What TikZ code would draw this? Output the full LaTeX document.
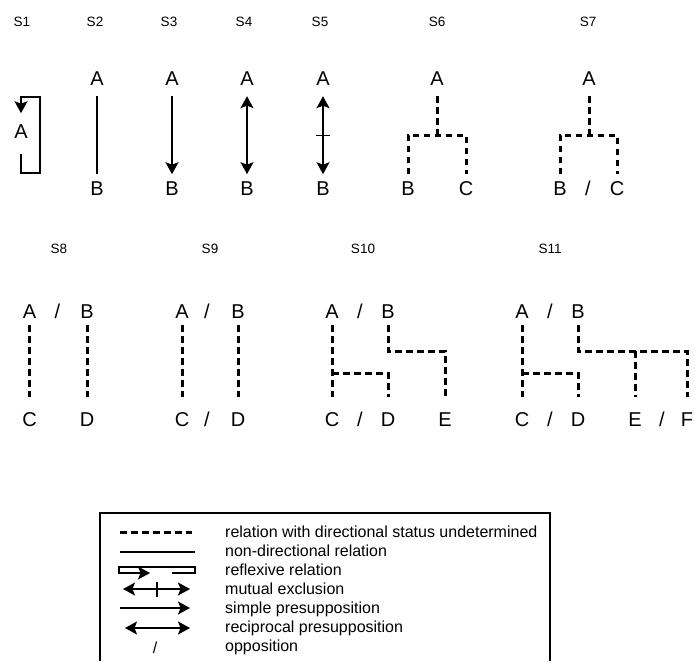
\documentclass[tikz,border=0pt]{standalone}
\usepackage{fontspec}
\setmainfont{Liberation Sans}
\usetikzlibrary{arrows.meta}
\usetikzlibrary{calc}

\tikzset{
  term/.style={font=\fontsize{20}{24}\selectfont,text height=14.3pt,text depth=4.2pt,
    inner sep=3.5pt,outer sep=3.5pt,anchor=base},
  opp/.style={font=\fontsize{20}{24}\selectfont,inner sep=0pt,anchor=base},
  sname/.style={font=\fontsize{13.5}{16}\selectfont,inner sep=0pt,anchor=base},
  legtext/.style={font=\fontsize{16}{19}\selectfont,inner sep=0pt,anchor=base west},
  rel/.style={line width=1.3pt},
  presup/.style={line width=1.5pt,->},
  recip/.style={line width=1.5pt,<->},
  undet/.style={line width=3pt,dash pattern=on 6.5pt off 4.5pt},
  rowtwo/.style={shorten <=-4pt,shorten >=7.5pt},
}

\begin{document}
\begin{tikzpicture}[x=1pt,y=-1pt,>={Stealth[length=12pt,width=13pt,inset=2.5pt]}]

  \useasboundingbox (0,0) rectangle (695,661);

  \foreach \n/\x/\y in {1/22/27,2/95/27,3/169/27,4/244/27,5/320/27,6/437/27,7/588/27,
                        8/59/253,9/210/253,10/363/253,11/550/253}
    \node [sname] (s\n) at (\x,\y) {S\n};

  % first row
  \node [term] (s1a) at (21,138) {A};

  \node [term] (s2a) at (97,85)    {A};
  \node [term] (s2b) at (97,195.5) {B};
  \node [term] (s3a) at (172,85)    {A};
  \node [term] (s3b) at (172,195.5) {B};
  \node [term] (s4a) at (247,85)    {A};
  \node [term] (s4b) at (247,195.5) {B};
  \node [term] (s5a) at (323,85)    {A};
  \node [term] (s5b) at (323,195.5) {B};

  \node [term] (s6a) at (437,85)    {A};
  \node [term] (s6b) at (408,195.5) {B};
  \node [term] (s6c) at (466,195.5) {C};
  \coordinate (s6j) at (437,135);

  \node [term] (s7a) at (589,85)    {A};
  \node [term] (s7b) at (560,195.5) {B};
  \node [opp]  (s7o) at (588,195.5) {/};
  \node [term] (s7c) at (617,195.5) {C};
  \coordinate (s7j) at (589,135);

  \draw [presup] ([yshift=-5pt]s1a.south) -- ++(0,19) -- ++(19,0) -- ++(0,-76) -- ++(-19,0) -- ++(0,16);
  \draw [rel]    (s2a) -- (s2b);
  \draw [presup] (s3a) -- (s3b);
  \draw [recip]  (s4a) -- (s4b);
  \draw [recip]  (s5a) -- (s5b);
  \draw [rel]    ($(s5a)!0.5!(s5b)$) +(-7,0) -- +(7,0);
  \draw [undet]  (s6a) -- (s6j);
  \draw [undet]  (s6b) |- (s6j) -| (s6c);
  \draw [undet]  (s7a) -- (s7j);
  \draw [undet]  (s7b) |- (s7j) -| (s7c);

  % second row
  \node [term] (s8a)  at (29.5,318) {A};
  \node [opp]  (s8o1) at (57.5,318) {/};
  \node [term] (s8b)  at (87,318)   {B};
  \node [term] (s8c)  at (29.5,426) {C};
  \node [term] (s8d)  at (87,426)   {D};

  \node [term] (s9a)  at (182,318) {A};
  \node [opp]  (s9o1) at (207,318) {/};
  \node [term] (s9b)  at (238,318) {B};
  \node [term] (s9c)  at (182,426) {C};
  \node [opp]  (s9o2) at (207,426) {/};
  \node [term] (s9d)  at (238,426) {D};

  \node [term] (s10a)  at (332,318) {A};
  \node [opp]  (s10o1) at (360,318) {/};
  \node [term] (s10b)  at (388,318) {B};
  \node [term] (s10c)  at (332,426) {C};
  \node [opp]  (s10o2) at (360,426) {/};
  \node [term] (s10d)  at (388,426) {D};
  \node [term] (s10e)  at (445,426) {E};
  \coordinate (s10j1) at (332,373);
  \coordinate (s10j2) at (388,351);

  \node [term] (s11a)  at (522,318) {A};
  \node [opp]  (s11o1) at (550,318) {/};
  \node [term] (s11b)  at (578,318) {B};
  \node [term] (s11c)  at (522,426) {C};
  \node [opp]  (s11o2) at (550,426) {/};
  \node [term] (s11d)  at (578,426) {D};
  \node [term] (s11e)  at (635,426) {E};
  \node [opp]  (s11o3) at (662,426) {/};
  \node [term] (s11f)  at (687,426) {F};
  \coordinate (s11j1) at (522,373);
  \coordinate (s11j2) at (578,351);
  \coordinate (s11j3) at (635,351);

  \draw [undet,rowtwo] (s8a) -- (s8c);
  \draw [undet,rowtwo] (s8b) -- (s8d);
  \draw [undet,rowtwo] (s9a) -- (s9c);
  \draw [undet,rowtwo] (s9b) -- (s9d);
  \draw [undet,rowtwo] (s10a) -- (s10c);
  \draw [undet,shorten >=7.5pt] (s10j1) -| (s10d);
  \draw [undet,rowtwo] (s10b) -- (s10j2) -| (s10e);
  \draw [undet,rowtwo] (s11a) -- (s11c);
  \draw [undet,shorten >=7.5pt] (s11j1) -| (s11d);
  \draw [undet,rowtwo] (s11b) -- (s11j2) -| (s11f);
  \draw [undet,shorten >=7.5pt] (s11j3) -- (s11e);

  % legend
  \draw [rel] (100,661) -- (100,513) -- (550,513) -- (550,661);

  \foreach \t [count=\i] in {relation with directional status undetermined,
      non-directional relation,reflexive relation,mutual exclusion,
      simple presupposition,reciprocal presupposition,opposition}
    \node [legtext] (leg\i) at (225,518+19*\i) {\t};

  \draw [undet]  (120,532) -- (192,532);
  \draw [rel]    (120,552) -- (195,552);
  \draw [presup,line width=1.3pt] (172,573) -| (195,567) -| (119,573) -- (150,573);
  \draw [recip]  (123,589) -- (190,589);
  \draw [rel]    (157,582) -- (157,597);
  \draw [presup] (120,608) -- (190,608);
  \draw [recip]  (125,628) -- (190,628);
  \node [legtext,anchor=base] (legopp) at (155,653) {/};

\end{tikzpicture}
\end{document}
